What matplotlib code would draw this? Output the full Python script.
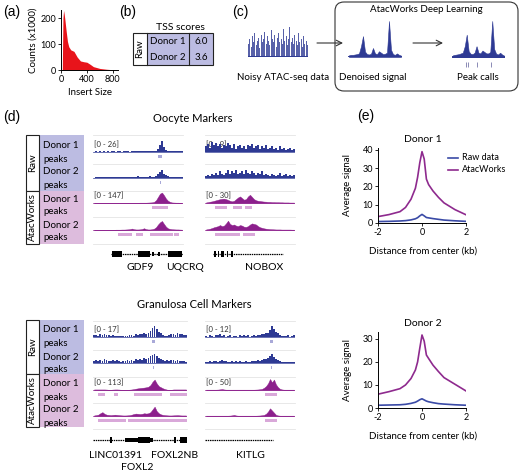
import matplotlib
matplotlib.use('Agg')
import matplotlib.pyplot as plt
from matplotlib.patches import Rectangle, FancyBboxPatch
import numpy as np

plt.rcParams['font.family'] = ['Lato', 'DejaVu Sans']

# ---------------- data ----------------
# (a) insert size histogram
insert_size = [20, 30, 40, 50, 60, 80, 100, 120, 150, 200, 250, 300, 350, 400, 450, 500, 600, 700, 800, 880]
counts_k = [0, 200, 230, 215, 195, 150, 110, 90, 78, 72, 50, 35, 32, 30, 22, 13, 6, 3, 1, 0]

# (b) TSS scores
tss_donors = ['Donor 1', 'Donor 2']
tss_scores = ['6.0', '3.6']

# (c) schematic signals (relative heights)
noisy_sig = [0.45, 0.6, 0.35, 0.7, 0.5, 0.8, 0.4, 0.55, 0.65, 0.3, 0.75, 0.5, 0.6, 0.85, 0.45, 0.7,
             0.55, 0.4, 0.9, 0.6, 0.5, 0.75, 0.35, 0.65, 0.8, 0.5, 0.6, 0.45, 0.95, 0.55, 0.7, 0.4,
             0.6, 1.0, 0.5, 0.65, 0.45, 0.75, 0.55, 0.4, 0.8, 0.5, 0.6, 0.35, 0.7, 0.45, 0.55, 0.4]
denoised_sig = [0.05, 0.06, 0.06, 0.07, 0.08, 0.1, 0.3, 0.58, 0.15, 0.08, 0.07, 0.09, 0.25, 0.1,
                0.08, 0.16, 0.12, 0.08, 0.09, 0.12, 1.0, 0.2, 0.08, 0.06, 0.1, 0.06, 0.04]
peakcall_sig = [0.05, 0.06, 0.07, 0.08, 0.1, 0.12, 0.3, 0.62, 0.16, 0.09, 0.08, 0.12, 0.3, 0.12,
                0.1, 0.18, 0.14, 0.1, 0.1, 0.14, 1.0, 0.22, 0.09, 0.07, 0.12, 0.07, 0.04]
peakcall_pos = [0.26, 0.30, 0.47, 0.74]

# (d) genome browser tracks (signal relative to displayed range)
gdf9_raw1 = [0.04, 0.05, 0.03, 0.06, 0.04, 0.05, 0.03, 0.05, 0.04, 0.06, 0.05, 0.04, 0.07, 0.05, 0.04,
             0.06, 0.05, 0.07, 0.04, 0.06, 0.05, 0.08, 0.06, 0.05, 0.07, 0.06, 0.08, 0.05, 0.07, 0.06,
             0.09, 0.12, 0.25, 0.6, 1.0, 0.45, 0.2, 0.1, 0.08, 0.06, 0.09, 0.07, 0.06, 0.08, 0.05]
gdf9_raw2 = [0.04, 0.06, 0.05, 0.08, 0.05, 0.07, 0.06, 0.09, 0.05, 0.08, 0.07, 0.06, 0.1, 0.07, 0.08,
             0.12, 0.07, 0.09, 0.1, 0.08, 0.11, 0.09, 0.15, 0.08, 0.1, 0.09, 0.12, 0.1, 0.14, 0.1,
             0.12, 0.2, 0.35, 0.55, 0.75, 0.4, 0.25, 0.15, 0.1, 0.12, 0.08, 0.1, 0.13, 0.07, 0.06]
gdf9_atac1 = [0.02, 0.02, 0.02, 0.02, 0.02, 0.02, 0.02, 0.02, 0.02, 0.02, 0.02, 0.02, 0.02, 0.02, 0.02,
              0.02, 0.02, 0.02, 0.02, 0.02, 0.02, 0.02, 0.02, 0.03, 0.03, 0.03, 0.03, 0.04, 0.05, 0.06,
              0.1, 0.25, 0.55, 0.85, 0.95, 0.7, 0.4, 0.2, 0.1, 0.05, 0.04, 0.03, 0.03, 0.02, 0.02]
gdf9_atac2 = [0.02, 0.02, 0.02, 0.02, 0.02, 0.02, 0.02, 0.02, 0.02, 0.02, 0.02, 0.03, 0.03, 0.03, 0.04,
              0.04, 0.05, 0.06, 0.08, 0.13, 0.07, 0.05, 0.05, 0.06, 0.09, 0.16, 0.08, 0.05, 0.05, 0.07,
              0.12, 0.25, 0.5, 0.7, 0.82, 0.55, 0.3, 0.15, 0.1, 0.07, 0.06, 0.05, 0.05, 0.04, 0.03]
nobox_raw1 = [0.5, 0.7, 0.4, 0.9, 0.6, 0.8, 0.5, 0.7, 0.4, 0.6, 0.5, 0.8, 0.6, 0.4, 0.7, 0.3, 0.5, 0.6,
              0.4, 0.5, 0.3, 0.6, 0.5, 0.7, 0.4, 0.5, 0.6, 0.3, 0.5, 0.4, 0.6, 0.3, 0.4, 0.5, 0.3, 0.4,
              0.2, 0.5, 0.3, 0.4, 0.2, 0.3, 0.4, 0.2, 0.3]
nobox_raw2 = [0.2, 0.3, 0.2, 0.4, 0.3, 0.5, 0.3, 0.6, 0.4, 0.3, 0.5, 0.7, 0.4, 0.6, 0.5, 0.7, 0.4, 0.5,
              0.6, 0.4, 0.7, 0.5, 0.4, 0.6, 0.5, 0.3, 0.5, 0.4, 0.6, 0.3, 0.4, 0.3, 0.2, 0.4, 0.3, 0.2,
              0.3, 0.5, 0.2, 0.3, 0.4, 0.2, 0.3, 0.2, 0.3]
nobox_atac1 = [0.05, 0.08, 0.12, 0.15, 0.2, 0.25, 0.3, 0.35, 0.38, 0.4, 0.35, 0.28, 0.2, 0.15, 0.2,
               0.35, 0.5, 0.6, 0.45, 0.3, 0.35, 0.6, 0.75, 0.55, 0.35, 0.25, 0.2, 0.18, 0.15, 0.13,
               0.12, 0.1, 0.1, 0.08, 0.08, 0.07, 0.07, 0.06, 0.06, 0.05, 0.05, 0.05, 0.04, 0.04, 0.04]
nobox_atac2 = [0.05, 0.08, 0.12, 0.18, 0.25, 0.3, 0.35, 0.45, 0.35, 0.4, 0.6, 0.85, 0.55, 0.45, 0.5,
               0.4, 0.35, 0.45, 0.4, 0.3, 0.28, 0.35, 0.5, 0.6, 0.55, 0.5, 0.35, 0.25, 0.2, 0.15,
               0.12, 0.1, 0.08, 0.07, 0.06, 0.05, 0.05, 0.05, 0.04, 0.04, 0.04, 0.04, 0.04, 0.03, 0.03]
foxl2_raw1 = [0.15, 0.2, 0.1, 0.25, 0.15, 0.3, 0.2, 0.15, 0.1, 0.2, 0.12, 0.08, 0.1, 0.05, 0.08, 0.06,
              0.05, 0.15, 0.2, 0.1, 0.25, 0.2, 0.3, 0.25, 0.35, 0.3, 0.4, 0.55, 0.8, 1.0, 0.7, 0.5,
              0.35, 0.2, 0.1, 0.05, 0.15, 0.25, 0.3, 0.2, 0.35, 0.25, 0.3, 0.2, 0.15]
foxl2_raw2 = [0.15, 0.25, 0.2, 0.3, 0.2, 0.35, 0.25, 0.2, 0.15, 0.3, 0.2, 0.25, 0.15, 0.1, 0.2, 0.15,
              0.25, 0.2, 0.3, 0.15, 0.35, 0.25, 0.4, 0.3, 0.5, 0.35, 0.45, 0.6, 0.7, 0.85, 0.6, 0.5,
              0.4, 0.3, 0.2, 0.3, 0.2, 0.25, 0.3, 0.2, 0.25, 0.2, 0.15, 0.2, 0.1]
foxl2_atac1 = [0.05, 0.05, 0.05, 0.05, 0.05, 0.05, 0.04, 0.02, 0.02, 0.04, 0.05, 0.05, 0.04, 0.02,
               0.02, 0.02, 0.02, 0.03, 0.05, 0.08, 0.12, 0.15, 0.18, 0.2, 0.22, 0.25, 0.3, 0.45,
               0.75, 0.95, 0.6, 0.35, 0.25, 0.15, 0.08, 0.03, 0.02, 0.02, 0.05, 0.05, 0.05, 0.05,
               0.05, 0.05, 0.05]
foxl2_atac2 = [0.05, 0.08, 0.12, 0.25, 0.35, 0.2, 0.12, 0.1, 0.08, 0.1, 0.12, 0.1, 0.08, 0.06, 0.05,
               0.05, 0.06, 0.08, 0.12, 0.18, 0.22, 0.2, 0.18, 0.2, 0.25, 0.22, 0.25, 0.35, 0.6, 0.85,
               0.45, 0.25, 0.15, 0.1, 0.08, 0.06, 0.05, 0.05, 0.06, 0.07, 0.08, 0.06, 0.05, 0.05, 0.05]
kitlg_raw1 = [0.1, 0.0, 0.15, 0.1, 0.0, 0.2, 0.15, 0.25, 0.1, 0.2, 0.0, 0.1, 0.15, 0.0, 0.05, 0.1,
              0.0, 0.15, 0.1, 0.2, 0.05, 0.15, 0.0, 0.1, 0.15, 0.1, 0.2, 0.15, 0.25, 0.3, 0.35, 0.4,
              0.6, 1.0, 0.75, 0.5, 0.35, 0.2, 0.1, 0.05, 0.1, 0.15, 0.0, 0.1, 0.15]
kitlg_raw2 = [0.05, 0.1, 0.15, 0.1, 0.15, 0.2, 0.1, 0.15, 0.25, 0.2, 0.15, 0.1, 0.05, 0.15, 0.1, 0.2,
              0.1, 0.15, 0.05, 0.1, 0.15, 0.1, 0.05, 0.15, 0.2, 0.15, 0.25, 0.2, 0.3, 0.35, 0.4, 0.5,
              0.6, 0.8, 0.55, 0.4, 0.25, 0.15, 0.1, 0.05, 0.1, 0.05, 0.1, 0.05, 0.05]
kitlg_atac1 = [0.03, 0.03, 0.03, 0.03, 0.03, 0.03, 0.04, 0.06, 0.09, 0.05, 0.03, 0.03, 0.03, 0.03,
               0.03, 0.03, 0.03, 0.03, 0.03, 0.03, 0.03, 0.03, 0.03, 0.03, 0.03, 0.04, 0.05, 0.07,
               0.1, 0.2, 0.35, 0.6, 1.0, 0.7, 0.95, 0.5, 0.25, 0.1, 0.05, 0.03, 0.03, 0.03, 0.03,
               0.03, 0.03]
kitlg_atac2 = [0.03, 0.03, 0.03, 0.03, 0.03, 0.03, 0.03, 0.03, 0.03, 0.03, 0.03, 0.03, 0.04, 0.06,
               0.1, 0.05, 0.03, 0.03, 0.03, 0.03, 0.03, 0.03, 0.03, 0.03, 0.03, 0.03, 0.04, 0.05,
               0.07, 0.1, 0.2, 0.4, 0.7, 0.5, 0.3, 0.1, 0.05, 0.03, 0.03, 0.03, 0.03, 0.03, 0.03,
               0.03, 0.03]

# peak calls (fraction of locus)
gdf9_peaks = [[(0.72, 0.77)], [(0.74, 0.76)], [(0.66, 0.83)],
              [(0.28, 0.43), (0.48, 0.56), (0.63, 0.89), (0.90, 0.96)]]
nobox_peaks = [[], [], [(0.11, 0.24), (0.31, 0.41), (0.44, 0.52)], [(0.11, 0.39), (0.42, 0.56)]]
foxl2_peaks = [[(0.63, 0.66)], [(0.64, 0.65)],
               [(0.05, 0.13), (0.22, 0.27), (0.44, 0.73), (0.82, 1.0)], [(0.05, 0.35), (0.37, 1.0)]]
kitlg_peaks = [[(0.72, 0.76)], [(0.735, 0.745)], [(0.67, 0.80)], [(0.67, 0.80)]]

# data ranges shown
gdf9_ranges = ['[0 - 26]', '[0 - 147]']
nobox_ranges = ['[0 - 9]', '[0 - 30]']
foxl2_ranges = ['[0 - 17]', '[0 - 113]']
kitlg_ranges = ['[0 - 12]', '[0 - 50]']

# gene models: (line start, line end), exons (start, end, thick)
gdf9_gene = ((0.20, 1.0), [(0.21, 0.32, 1), (0.50, 0.63, 1), (0.66, 0.68, 0), (0.72, 0.74, 0), (0.83, 0.99, 1)])
nobox_gene = ((0.09, 0.87), [(0.10, 0.12, 1), (0.14, 0.16, 1), (0.18, 0.21, 1), (0.24, 0.26, 1),
                             (0.29, 0.31, 1), (0.35, 0.36, 0), (0.55, 0.56, 0), (0.865, 0.87, 1)])
foxl2_gene = ((0.0, 1.0), [(0.18, 0.20, 1), (0.34, 0.48, 0), (0.48, 0.61, 1), (0.61, 0.64, 0),
                           (0.86, 0.88, 1), (0.93, 1.0, 1)])
kitlg_gene = ((0.0, 0.76), [(0.755, 0.76, 1)])

# (e) aggregate profiles
dist_kb = [-2, -1.5, -1, -0.75, -0.5, -0.3, -0.2, -0.1, 0, 0.1, 0.2, 0.3, 0.5, 0.75, 1, 1.5, 2]
d1_atac = [3.5, 4.6, 6.2, 8.5, 13, 19, 25, 33, 39, 35, 24, 21, 17.5, 14, 11, 7.3, 4.5]
d1_raw = [0.8, 0.9, 1.1, 1.3, 1.7, 2.3, 2.9, 3.9, 4.7, 3.9, 3.0, 2.8, 2.4, 2.0, 1.6, 1.2, 0.9]
d2_atac = [6, 7.1, 8.4, 10, 12.8, 16.5, 20, 26, 31.7, 29, 23, 21.5, 18.6, 15.8, 13.2, 10.3, 7.4]
d2_raw = [1.2, 1.3, 1.4, 1.6, 2.0, 2.5, 3.0, 3.6, 4.0, 3.5, 3.0, 2.7, 2.3, 1.9, 1.7, 1.4, 1.2]

# ---------------- style ----------------
NAVY = '#2E3A94'
PURP = '#8C1F8C'
LAV = '#BCBCE2'
PINK = '#DDBCDD'
RAWPK = '#A9A9D8'
ATPK = '#D9A8D9'
RED = '#E8141B'
LBL = dict(family=['Liberation Sans', 'DejaVu Sans'], fontsize=10)

W, H = 520, 471
fig = plt.figure(figsize=(W / 100, H / 100), dpi=100)


def pax(x0, y0, x1, y1):
    ax = fig.add_axes([x0 / W, 1 - y1 / H, (x1 - x0) / W, (y1 - y0) / H])
    ax.patch.set_alpha(0)
    return ax


ov = fig.add_axes([0, 0, 1, 1], zorder=-5)
ov.set_xlim(0, W)
ov.set_ylim(H, 0)
ov.axis('off')

# ---------------- (a) ----------------
ov.text(3, 12, '(a)', ha='left', va='center', **LBL)
axa = pax(61, 10, 118, 70)
axa.fill_between(insert_size, counts_k, color=RED, lw=0)
axa.set_xlim(0, 880)
axa.set_ylim(0, 232)
axa.set_xticks([0, 400, 800])
axa.set_yticks([0, 100, 200])
for s in ['top', 'right']:
    axa.spines[s].set_visible(False)
axa.tick_params(labelsize=6.5, length=2, width=0.6, pad=1.5)
for s in ['left', 'bottom']:
    axa.spines[s].set_linewidth(0.7)
axa.set_xlabel('Insert Size', fontsize=7, labelpad=3)
axa.set_ylabel('Counts (x1000)', fontsize=7, labelpad=2)

# ---------------- (b) ----------------
ov.text(119, 12, '(b)', ha='left', va='center', **LBL)
ov.text(180, 28, 'TSS scores', ha='center', va='center', fontsize=7.5)
ov.add_patch(Rectangle((147, 33), 66, 32, facecolor=LAV, edgecolor='none'))
ov.add_patch(Rectangle((133, 33), 80, 32, facecolor='none', edgecolor='#222222', lw=0.8))
ov.plot([147, 147], [33, 65], color='#222222', lw=0.8)
ov.plot([189, 189], [33, 65], color='#222222', lw=0.8)
ov.text(140, 49, 'Raw', rotation=90, ha='center', va='center', fontsize=7)
for i, (d, s) in enumerate(zip(tss_donors, tss_scores)):
    yy = 41.5 + 15.5 * i
    ov.text(168, yy, d, ha='center', va='center', fontsize=7)
    ov.text(201, yy, s, ha='center', va='center', fontsize=7)

# ---------------- (c) ----------------
ov.text(232, 12, '(c)', ha='left', va='center', **LBL)
ov.add_patch(FancyBboxPatch((335, 2), 183, 89, boxstyle='round,pad=0,rounding_size=9',
                            facecolor='none', edgecolor='#333333', lw=0.8))
ov.text(426, 10, 'AtacWorks Deep Learning', ha='center', va='center', fontsize=7)


def sig_axes(x0, y0, x1, y1, vals, ylo=0.0, bars=False):
    ax = pax(x0, y0, x1, y1)
    n = len(vals)
    xs = (np.arange(n) + 0.5) / n
    if bars:
        ax.bar(xs, vals, width=0.9 / n, color=NAVY, lw=0, alpha=0.8)
    else:
        ax.fill_between(xs, vals, color=NAVY, lw=0.4)
    ax.axhline(0, color=NAVY, lw=1.4)
    ax.set_xlim(0, 1)
    ax.set_ylim(ylo, 1.0)
    ax.axis('off')
    return ax


sig_axes(248, 27, 308, 57, noisy_sig, bars=True)
sig_axes(348, 21, 402, 57, denoised_sig)
axpc = sig_axes(452, 21, 505, 68, peakcall_sig, ylo=-11 / 36)
axpc.vlines(peakcall_pos, -0.27, -0.15, color='#7777AA', lw=0.6)
ov.text(283, 77, 'Noisy ATAC-seq data', ha='center', va='center', fontsize=7)
ov.text(373, 77, 'Denoised signal', ha='center', va='center', fontsize=7)
ov.text(478, 77, 'Peak calls', ha='center', va='center', fontsize=7)
for xa, xb in [(317, 343), (413, 443)]:
    ov.annotate('', xy=(xb, 43), xytext=(xa, 43),
                arrowprops=dict(arrowstyle='->', lw=0.8, color='#333333', shrinkA=0, shrinkB=0))

# ---------------- (d) ----------------
ov.text(3, 117, '(d)', ha='left', va='center', **LBL)


def label_box(top, mid, bot, ys):
    ov.add_patch(Rectangle((39, top), 45, mid - top, facecolor=LAV, edgecolor='none'))
    ov.add_patch(Rectangle((39, mid), 45, bot - mid, facecolor=PINK, edgecolor='none'))
    ov.add_patch(Rectangle((26, top), 13, mid - top, facecolor='white', edgecolor='#222222', lw=0.8))
    ov.add_patch(Rectangle((26, mid), 13, bot - mid, facecolor='white', edgecolor='#222222', lw=0.8))
    ov.text(32.5, (top + mid) / 2, 'Raw', rotation=90, ha='center', va='center', fontsize=7)
    ov.text(32.5, (mid + bot) / 2, 'AtacWorks', rotation=90, ha='center', va='center', fontsize=7)
    for t, yy in zip(['Donor 1', 'peaks', 'Donor 2', 'peaks'] * 2, ys):
        ov.text(43, yy, t, ha='left', va='center', fontsize=7)


def track(x0, x1, base, vals, color, peaks, pkcolor, smooth):
    ax = pax(x0, base - 11, x1, base + 7)
    ax.set_xlim(0, 1)
    ax.set_ylim(-7 / 11, 1.0)
    n = len(vals)
    xs = (np.arange(n) + 0.5) / n
    if smooth:
        ax.fill_between(xs, vals, color=color, lw=0.3)
    else:
        ax.bar(xs, vals, width=0.8 / n, color=color, lw=0)
    ax.axhline(0, color=color, lw=0.5)
    for s, e in peaks:
        ax.add_patch(Rectangle((s, -6 / 11), max(e - s, 0.008), 3 / 11, facecolor=pkcolor, lw=0))
    ax.axis('off')


def gene(x0, x1, gy, model, labels):
    ax = pax(x0, gy - 4, x1, gy + 4)
    ax.set_xlim(0, 1)
    ax.set_ylim(-1, 1)
    (ls, le), exons = model
    ax.plot([ls, le], [0, 0], color='black', lw=0.9, ls=(0, (1.2, 0.6)))
    for s, e, thick in exons:
        h = 0.7 if thick else 0.38
        ax.add_patch(Rectangle((s, -h), e - s, 2 * h, facecolor='black', lw=0))
    ax.axis('off')
    for t, xx, yy in labels:
        ov.text(xx, yy, t, ha='center', va='center', fontsize=7.5)


def locus(x0, x1, bases, seps, tracks, peaks, ranges, model, glabels, gy):
    for yy in seps:
        ov.plot([x0, x1], [yy, yy], color='#E4E4E4', lw=0.6)
    cols = [NAVY, NAVY, PURP, PURP]
    pcs = [RAWPK, RAWPK, ATPK, ATPK]
    for i in range(4):
        track(x0, x1, bases[i], tracks[i], cols[i], peaks[i], pcs[i], smooth=(i >= 2))
    ov.text(x0 + 1, bases[0] - 7, ranges[0], ha='left', va='center', fontsize=5.5, color='#333333')
    ov.text(x0 + 1, bases[2] - 7, ranges[1], ha='left', va='center', fontsize=5.5, color='#333333')
    gene(x0, x1, gy, model, glabels)


# Oocyte markers
ov.text(193, 119, 'Oocyte Markers', ha='center', va='center', fontsize=8)
label_box(135, 191, 244, [145, 159, 172, 185, 199, 212, 225, 238])
oo_bases = [152, 178, 203, 230]
oo_seps = [135, 164, 191, 217, 244]
locus(93, 183, oo_bases, oo_seps, [gdf9_raw1, gdf9_raw2, gdf9_atac1, gdf9_atac2], gdf9_peaks,
      gdf9_ranges, gdf9_gene, [('GDF9', 140, 268), ('UQCRQ', 185, 268)], 254)
locus(205, 295, oo_bases, oo_seps, [nobox_raw1, nobox_raw2, nobox_atac1, nobox_atac2], nobox_peaks,
      nobox_ranges, nobox_gene, [('NOBOX', 264, 268)], 254)

# Granulosa markers
ov.text(194, 305, 'Granulosa Cell Markers', ha='center', va='center', fontsize=8)
label_box(320, 374, 427, [330, 343, 357, 370, 384, 397, 410, 423])
gr_bases = [337, 363, 390, 416]
gr_seps = [321, 350, 377, 403, 429]
locus(93, 187, gr_bases, gr_seps, [foxl2_raw1, foxl2_raw2, foxl2_atac1, foxl2_atac2], foxl2_peaks,
      foxl2_ranges, foxl2_gene,
      [('LINC01391', 115, 455), ('FOXL2NB', 175, 455), ('FOXL2', 137, 467)], 440)
locus(205, 295, gr_bases, gr_seps, [kitlg_raw1, kitlg_raw2, kitlg_atac1, kitlg_atac2], kitlg_peaks,
      kitlg_ranges, kitlg_gene, [('KITLG', 250, 455)], 440)

# ---------------- (e) ----------------
ov.text(357, 116, '(e)', ha='left', va='center', **LBL)


def profile(y0, y1, ytop, yticks, raw, atac, title, ty, xly):
    ax = pax(378, y0, 466, y1)
    ax.plot(dist_kb, raw, color='#3A4AA6', lw=1.2)
    ax.plot(dist_kb, atac, color='#8E2A8E', lw=1.2)
    ax.set_xlim(-2, 2)
    ax.set_ylim(0, ytop)
    ax.set_xticks([-2, 0, 2])
    ax.set_xticklabels(['-2', '0', '2'])
    ax.set_yticks(yticks)
    for s in ['top', 'right']:
        ax.spines[s].set_visible(False)
    for s in ['left', 'bottom']:
        ax.spines[s].set_linewidth(0.7)
    ax.tick_params(labelsize=6.5, length=2, width=0.6, pad=1.5)
    ov.text(423, ty, title, ha='center', va='center', fontsize=7.5)
    ov.text(348, (y0 + y1) / 2, 'Average signal', rotation=90, ha='center', va='center', fontsize=7)
    ov.text(423, xly, 'Distance from center (kb)', ha='center', va='center', fontsize=7)


profile(148, 223, 41, [0, 10, 20, 30, 40], d1_raw, d1_atac, 'Donor 1', 139, 251)
profile(332, 408, 33, [0, 10, 20, 30], d2_raw, d2_atac, 'Donor 2', 323, 436)
ov.plot([448, 458], [158, 158], color='#3A4AA6', lw=1.2)
ov.plot([448, 458], [170, 170], color='#8E2A8E', lw=1.2)
ov.text(462, 158, 'Raw data', ha='left', va='center', fontsize=6.5)
ov.text(462, 170, 'AtacWorks', ha='left', va='center', fontsize=6.5)

fig.savefig('out.png', dpi=100)
